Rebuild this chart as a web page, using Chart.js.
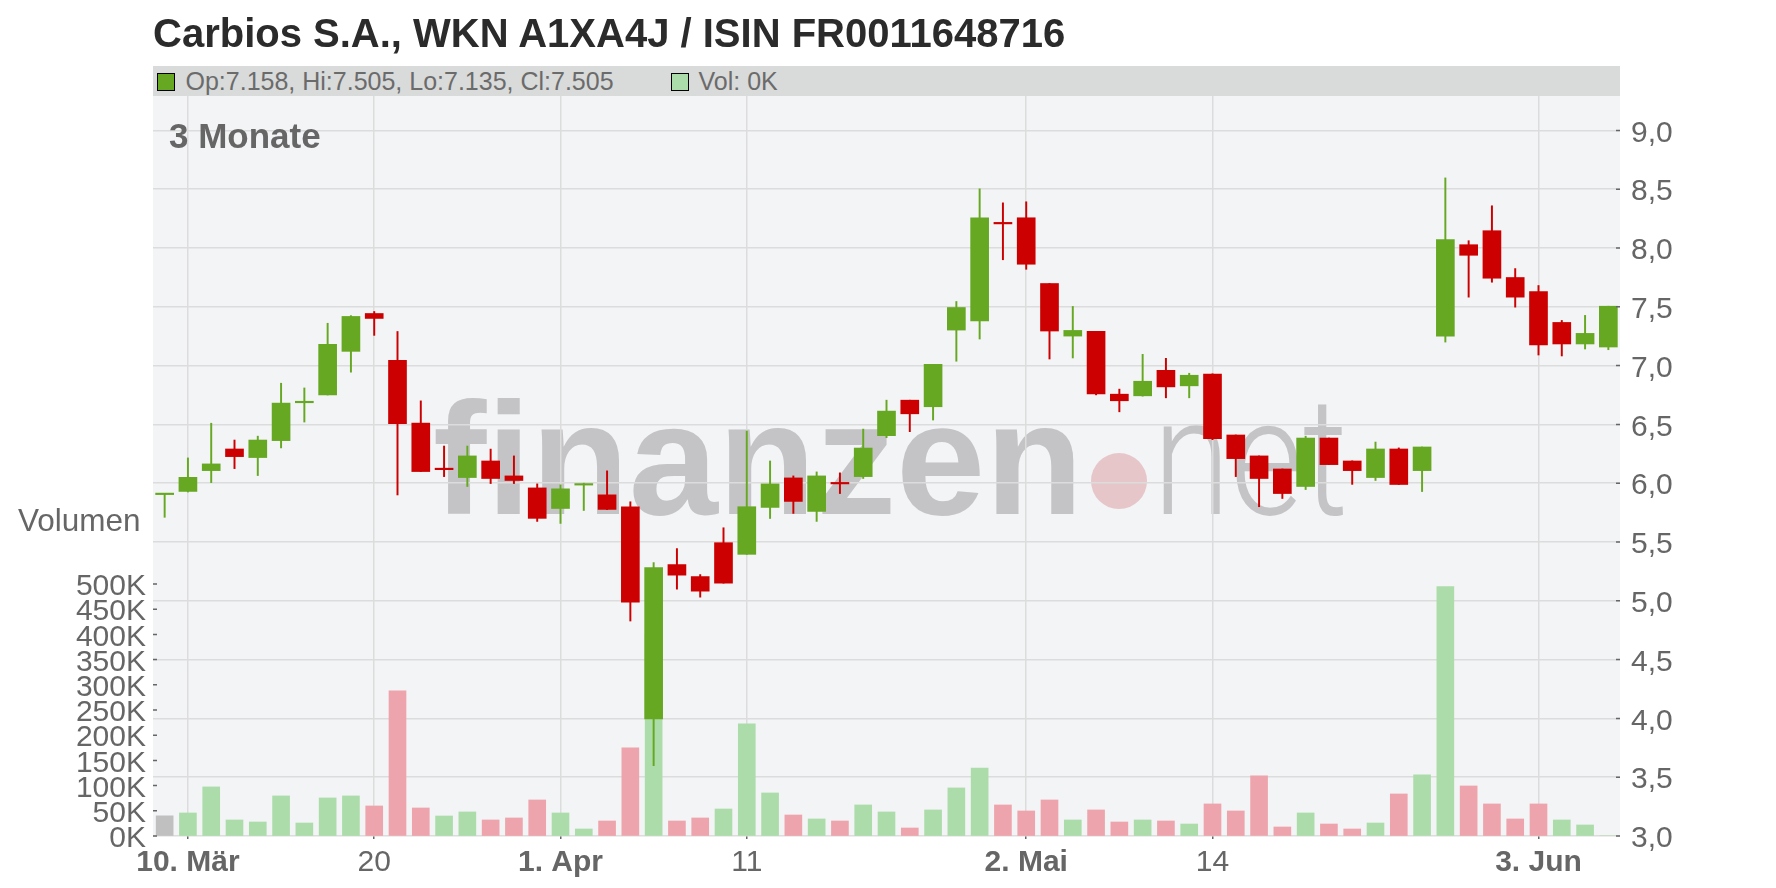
<!DOCTYPE html>
<html>
<head>
<meta charset="utf-8">
<script src="https://cdn.jsdelivr.net/npm/chart.js@4.4.1/dist/chart.umd.min.js"></script>
<style>
html,body{margin:0;padding:0;background:#fff;width:1776px;height:888px;overflow:hidden;font-family:"Liberation Sans",Arial,sans-serif;}
#wrap{position:relative;width:1776px;height:888px;}
#c{position:absolute;left:0;top:0;}
.abs{position:absolute;white-space:nowrap;line-height:1;}
#title{left:153px;top:12.5px;font-size:40px;font-weight:bold;color:#2b2b2b;}
#legend{left:153px;top:66px;width:1467px;height:30px;background:#d9dada;}
.sq{position:absolute;top:6.7px;width:16px;height:16px;border:1px solid #000;}
.lt{position:absolute;top:3px;font-size:25px;color:#6b6b6b;line-height:1;white-space:nowrap;}
#period{left:169px;top:118px;font-size:35px;font-weight:bold;color:#666;}
#vollab{left:18px;top:505px;font-size:31.5px;color:#666;}
</style>
</head>
<body>
<div id="wrap">
<canvas id="c" width="1776" height="888"></canvas>
<div id="title" class="abs"></div>
<div id="legend" class="abs">
  <div class="sq" id="sq1" style="left:4px;"></div><div class="lt" id="lt1" style="left:32.5px;"></div>
  <div class="sq" id="sq2" style="left:517.5px;"></div><div class="lt" id="lt2" style="left:545.5px;"></div>
</div>
<div id="period" class="abs"></div>
<div id="vollab" class="abs"></div>
</div>
<script>
// ---------- data ----------
const chartTitle = "Carbios S.A., WKN A1XA4J / ISIN FR0011648716";
const periodLabel = "3 Monate";
const volumeLabel = "Volumen";

const dates = ['2025-03-07','2025-03-10','2025-03-11','2025-03-12','2025-03-13','2025-03-14','2025-03-17','2025-03-18','2025-03-19','2025-03-20','2025-03-21','2025-03-24','2025-03-25','2025-03-26','2025-03-27','2025-03-28','2025-03-31',
'2025-04-01','2025-04-02','2025-04-03','2025-04-04','2025-04-07','2025-04-08','2025-04-09','2025-04-10','2025-04-11','2025-04-14','2025-04-15','2025-04-16','2025-04-17','2025-04-22','2025-04-23','2025-04-24','2025-04-25','2025-04-28','2025-04-29','2025-04-30',
'2025-05-02','2025-05-05','2025-05-06','2025-05-07','2025-05-08','2025-05-09','2025-05-12','2025-05-13','2025-05-14','2025-05-15','2025-05-16','2025-05-19','2025-05-20','2025-05-21','2025-05-22','2025-05-23','2025-05-26','2025-05-27','2025-05-28','2025-05-29','2025-05-30',
'2025-06-02','2025-06-03','2025-06-04','2025-06-05','2025-06-06'];

const open  = [5.903,5.93,6.107,6.291,6.218,6.362,6.684,6.751,7.121,7.443,7.045,6.511,6.12,6.048,6.189,6.062,5.96,
5.785,5.984,5.901,5.80,3.995,5.308,5.206,5.494,5.395,5.794,6.045,5.76,5.998,6.056,6.404,6.706,6.65,7.302,7.379,8.215,
8.257,7.698,7.251,7.291,6.757,6.743,6.96,6.828,6.927,6.41,6.232,6.121,5.972,6.384,6.189,6.048,6.291,6.107,7.251,8.028,8.147,
7.749,7.63,7.367,7.184,7.158];
const high  = [5.91,6.215,6.51,6.367,6.40,6.85,6.81,7.36,7.425,7.46,7.29,6.70,6.316,6.316,6.29,6.232,5.994,
5.986,6.0,6.105,5.842,5.325,5.444,5.223,5.621,6.444,6.189,6.062,6.096,6.088,6.46,6.706,6.706,7.011,7.545,8.503,8.384,
8.393,7.698,7.503,7.291,6.80,7.096,7.062,6.935,6.93,6.41,6.232,6.121,6.40,6.384,6.19,6.35,6.30,6.308,8.596,8.062,8.359,
7.825,7.681,7.384,7.427,7.505];
const low   = [5.71,5.925,6.005,6.124,6.065,6.30,6.52,6.75,6.944,7.257,5.90,6.099,6.056,5.972,5.997,5.997,5.675,
5.658,5.768,5.775,4.828,3.598,5.099,5.031,5.150,5.395,5.70,5.743,5.675,5.912,6.04,6.387,6.438,6.537,7.037,7.226,7.90,
7.819,7.056,7.065,6.751,6.607,6.74,6.726,6.726,6.37,6.056,5.80,5.87,5.946,6.158,5.99,6.023,5.989,5.929,7.20,7.582,7.709,
7.497,7.09,7.082,7.141,7.135];
const close = [5.907,6.05,6.164,6.226,6.367,6.681,6.688,7.181,7.418,7.401,6.506,6.099,6.115,6.232,6.04,6.023,5.701,
5.952,5.988,5.777,4.989,5.283,5.218,5.082,5.150,5.80,5.994,5.845,6.062,5.994,6.299,6.613,6.59,7.011,7.494,8.257,8.205,
7.862,7.294,7.299,6.76,6.701,6.867,6.819,6.918,6.379,6.209,6.04,5.912,6.384,6.158,6.107,6.291,5.989,6.308,8.071,7.938,7.743,
7.582,7.175,7.184,7.274,7.505];
const volume = [40000,45700,97400,31800,27800,79500,25800,75500,79500,59600,288000,55600,39700,47700,31800,35800,71500,
45700,13900,29800,174800,400000,29800,35800,53600,222500,85400,41700,33800,29800,61600,47700,15900,51700,95400,135000,61600,
49700,71500,31800,51700,27800,31800,29800,23800,63600,49700,119200,17900,45700,23800,13900,25800,83400,121200,494700,99300,63600,
33800,63600,31800,21900,0];

const xTickDates  = ['2025-03-10','2025-03-20','2025-04-01','2025-04-11','2025-05-02','2025-05-14','2025-06-03'];
const xTickLabels = ['10. Mär','20','1. Apr','11','2. Mai','14','3. Jun'];
const priceTicks  = [3.0,3.5,4.0,4.5,5.0,5.5,6.0,6.5,7.0,7.5,8.0,8.5,9.0];
const volumeTicks = [0,50000,100000,150000,200000,250000,300000,350000,400000,450000,500000];

// ---------- colours ----------
const UP = '#66a822', DOWN = '#cc0000';
const VOL_UP = '#acdcaa', VOL_DOWN = '#eea4ac', VOL_FIRST = '#c0c0c0';
const TXT = '#666666', GRID = '#dcdcdc';

const candleColors = close.map((c,i)=> c >= open[i] ? UP : DOWN);
const volColors = volume.map((v,i)=> i===0 ? VOL_FIRST : (close[i] >= close[i-1] ? VOL_UP : VOL_DOWN));

// ---------- html texts ----------
document.getElementById('title').textContent = chartTitle;
document.getElementById('period').textContent = periodLabel;
document.getElementById('vollab').textContent = volumeLabel;
const L = close.length - 1;
const f3 = v => v.toFixed(3);
document.getElementById('lt1').textContent = 'Op:'+f3(open[L])+', Hi:'+f3(high[L])+', Lo:'+f3(low[L])+', Cl:'+f3(close[L]);
document.getElementById('lt2').textContent = 'Vol: '+Math.round(volume[L]/1000)+'K';
document.getElementById('sq1').style.background = candleColors[L];
document.getElementById('sq2').style.background = VOL_UP;

// ---------- helpers ----------
const tickLabelAt = i => { const k = xTickDates.indexOf(dates[i]); return k < 0 ? '' : xTickLabels[k]; };
const FONT = '"Liberation Sans", Arial, Helvetica, sans-serif';
Chart.defaults.font.family = FONT;

const bgPlugin = {
  id: 'bg',
  beforeDraw(chart){
    const {ctx, chartArea:a} = chart;
    const W = a.right - a.left, H = a.bottom - a.top;
    ctx.save();
    ctx.fillStyle = '#f3f4f6';
    ctx.fillRect(a.left, a.top, W, H);
    // watermark
    const base = a.top + H*0.5644;
    ctx.fillStyle = '#c4c4c6';
    ctx.textBaseline = 'alphabetic';
    ctx.font = 'bold 160px ' + FONT;
    let w = ctx.measureText('finanzen').width;
    ctx.save(); ctx.translate(a.left + W*0.1909, base); ctx.scale((W*0.4431)/w, 1); ctx.fillText('finanzen', 0, 0); ctx.restore();
    ctx.fillStyle = '#e7c6ca';
    ctx.beginPath(); ctx.arc(a.left + W*0.6585, a.top + H*0.5203, 28, 0, Math.PI*2); ctx.fill();
    ctx.fillStyle = '#c4c4c6';
    ctx.font = '300 165px Roboto, "Open Sans", sans-serif';
    w = ctx.measureText('net').width;
    ctx.save(); ctx.translate(a.left + W*0.6817, base); ctx.scale((W*0.1329)/w, 1); ctx.fillText('net', 0, 0); ctx.restore();
    ctx.restore();
  },
  afterDraw(chart){
    // inner tick marks of both value axes
    const {ctx, chartArea:a} = chart;
    ctx.save();
    ctx.strokeStyle = TXT; ctx.lineWidth = 1.5;
    ctx.beginPath();
    const ys = chart.scales.y, vs = chart.scales.v;
    ys.ticks.forEach(t => { const p = ys.getPixelForValue(t.value); ctx.moveTo(a.right - 4, p); ctx.lineTo(a.right, p); });
    vs.ticks.forEach(t => { const p = vs.getPixelForValue(t.value); ctx.moveTo(a.left, p); ctx.lineTo(a.left + 4, p); });
    ctx.stroke();
    ctx.restore();
  }
};

new Chart(document.getElementById('c'), {
  type: 'bar',
  data: {
    labels: dates,
    datasets: [
      { label:'body', data: open.map((o,i)=>[o, close[i]]), backgroundColor: candleColors, barThickness: 18, minBarLength: 1.5, yAxisID:'y', grouped:false, order:0 },
      { label:'wick', data: low.map((l,i)=>[l, high[i]]), backgroundColor: candleColors, barThickness: 1.3, yAxisID:'y', grouped:false, order:1 },
      { label:'vol', data: volume, backgroundColor: volColors, barThickness: 17, yAxisID:'v', grouped:false, order:2 }
    ]
  },
  options: {
    responsive: false,
    animation: false,
    devicePixelRatio: 1,
    layout: { padding: { top: 96, left: 0, right: 0, bottom: 0 } },
    plugins: { legend: { display:false }, tooltip: { enabled:false } },
    scales: {
      x: {
        type: 'category',
        offset: true,
        border: { display:false },
        grid: {
          offset: false,
          lineWidth: 1.5,
          color: c => tickLabelAt(c.index) ? GRID : 'rgba(0,0,0,0)',
          tickColor: c => tickLabelAt(c.index) ? TXT : 'rgba(0,0,0,0)',
          tickLength: 3
        },
        ticks: {
          autoSkip: false, maxRotation: 0, minRotation: 0, padding: 6, color: TXT,
          font: c => ({ family: FONT, size: 30, weight: (tickLabelAt(c.index).indexOf('.') >= 0 ? 'bold' : 'normal') }),
          callback: (v, i) => tickLabelAt(i)
        },
        afterFit: s => { s.height = 52; }
      },
      y: {
        position: 'right',
        min: 3, max: 9.2925,
        border: { display:false },
        grid: { color: GRID, lineWidth: 1.5, drawTicks: false },
        ticks: { autoSkip:false, padding: 11, labelOffset: 3, color: TXT, font: { size: 30 }, callback: v => Number(v).toFixed(1).replace('.', ',') },
        afterBuildTicks: s => { s.ticks = priceTicks.map(v => ({ value: v })); },
        afterFit: s => { s.width = 156; }
      },
      v: {
        position: 'left',
        min: 0, max: 1468254,
        border: { display:false },
        grid: { drawOnChartArea: false, drawTicks: false },
        ticks: { autoSkip:false, padding: 7, labelOffset: 3, color: TXT, font: { size: 30 }, callback: v => Math.round(v/1000) + 'K' },
        afterBuildTicks: s => { s.ticks = volumeTicks.map(v => ({ value: v })); },
        afterFit: s => { s.width = 153; }
      }
    }
  },
  plugins: [bgPlugin]
});
</script>
</body>
</html>
